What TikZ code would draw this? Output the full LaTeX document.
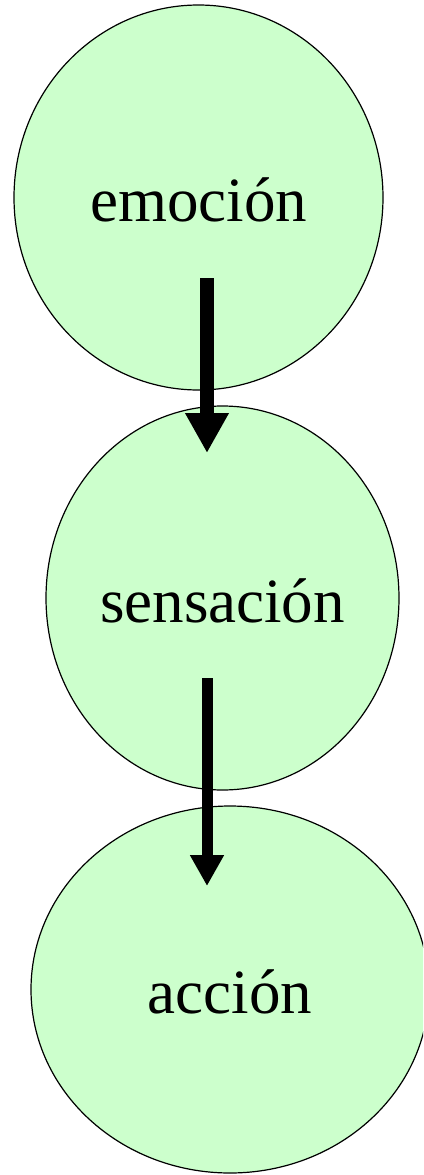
\documentclass[tikz,border=0pt]{standalone}
\usepackage{fontspec}
\setmainfont{Liberation Serif}
\usetikzlibrary{shapes.geometric,arrows.meta}
\definecolor{bubblegreen}{HTML}{CCFFCC}
\tikzset{
  bubble/.style={ellipse, draw=black, line width=1.2pt, fill=bubblegreen, inner sep=0pt,
    font=\fontsize{63}{70}\selectfont, text height=48pt, text depth=0pt},
  bigarrow/.style={line width=14pt, -{Triangle[width=41pt,length=40pt]}},
  smallarrow/.style={line width=11pt, -{Triangle[width=32pt,length=31pt]}}
}
\begin{document}
\begin{tikzpicture}[x=1pt,y=-1pt]
\useasboundingbox (0,0) rectangle (423,1175);
\clip (0,0) rectangle (423,1175);
\node[bubble, minimum width=369pt, minimum height=385pt] (e1) at (198.5,197.5) {emoción};
\node[bubble, minimum width=353pt, minimum height=384pt] (e2) at (222.5,598) {sensación};
\node[bubble, minimum width=398pt, minimum height=367pt] (e3) at (230,989.5) {acción};
\coordinate (a1s) at (207,278);
\coordinate (a1e) at (207,453);
\coordinate (a2s) at (207,678);
\coordinate (a2e) at (207,886);
\draw[bigarrow] (a1s) -- (a1e);
\draw[smallarrow] (a2s) -- (a2e);
\end{tikzpicture}
\end{document}
